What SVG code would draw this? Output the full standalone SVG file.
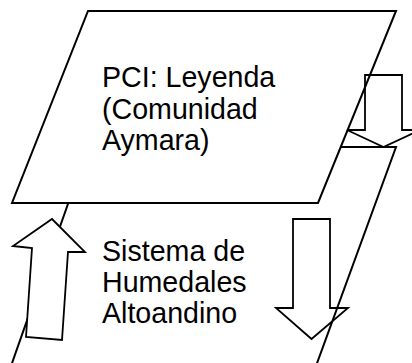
<svg xmlns="http://www.w3.org/2000/svg" width="412" height="363" viewBox="0 0 412 363">
<style>
.bg{fill:#ffffff}
.shape{stroke:#000000;stroke-width:2;stroke-linejoin:miter}
.arrow{stroke:#000000;stroke-width:1.8;stroke-linejoin:miter}
.lbl{font-family:"Liberation Sans",Arial,sans-serif;font-size:28.6px;fill:#000000}
</style>
<rect class="bg" x="0" y="0" width="412" height="363"/>
<g id="node-humedales">
<polygon class="shape" fill="none" points="88,147 396,147 316,366 11,366"/>
</g>
<g id="connector-up">
<polygon class="arrow" fill="#ffffff" points="52,219 85,252 68,252 62,340 26,337 32,248 13,246"/>
</g>
<g id="node-pci">
<polygon class="shape" fill="#ffffff" points="88,11 396,11 318,203 12,203"/>
<text class="lbl" x="102" y="86.5">PCI: Leyenda</text>
<text class="lbl" x="102" y="118.5">(Comunidad</text>
<text class="lbl" x="102" y="150.3">Aymara)</text>
</g>
<g id="label-humedales">
<text class="lbl" x="102" y="260.5">Sistema de</text>
<text class="lbl" x="102" y="291.8">Humedales</text>
<text class="lbl" x="102" y="323">Altoandino</text>
</g>
<g id="connectors">
<polygon class="arrow" fill="none" points="365,75 402,75 402,130 420,130 383.5,147 347,130 365,130"/>
<polygon class="arrow" fill="none" points="293,219 330,219 330,308 348,308 311.5,339 276,308 293,308"/>
</g>
</svg>
